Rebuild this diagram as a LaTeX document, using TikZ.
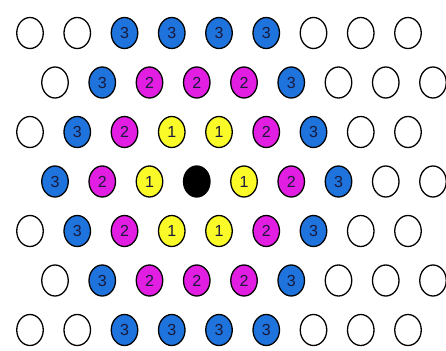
\documentclass[tikz,border=0pt]{standalone}
\usepackage{fontspec}
\setmainfont{Liberation Sans}
\usetikzlibrary{shapes.geometric}
\definecolor{cblue}{RGB}{30,115,220}
\definecolor{cmag}{RGB}{225,30,225}
\definecolor{cyel}{RGB}{250,250,40}
\definecolor{ctxt}{RGB}{25,25,60}
\tikzset{
  cell/.style={ellipse, draw=black, line width=1.3pt, minimum width=26.5pt, minimum height=31pt, inner sep=0pt, text=ctxt, font=\fontsize{16}{16}\selectfont},
  c-w/.style={fill=white, node contents={}},
  c-b/.style={fill=black, node contents={}},
  c-1/.style={fill=cyel, node contents={1}},
  c-2/.style={fill=cmag, node contents={2}},
  c-3/.style={fill=cblue, node contents={3}},
}
\begin{document}
\begin{tikzpicture}[x=1pt,y=-1pt]
\useasboundingbox (0,0) rectangle (446,350);
\foreach \r/\lst in {
  1/{w,w,3,3,3,3,w,w,w},
  2/{w,3,2,2,2,3,w,w,w},
  3/{w,3,2,1,1,2,3,w,w},
  4/{3,2,1,b,1,2,3,w,w},
  5/{w,3,2,1,1,2,3,w,w},
  6/{w,3,2,2,2,3,w,w,w},
  7/{w,w,3,3,3,3,w,w,w}} {
  \pgfmathsetmacro{\xo}{isodd(\r) ? 30 : 55}
  \pgfmathsetmacro{\yy}{33 + 49.5*(\r-1)}
  \foreach \t [count=\i] in \lst {
    \node[cell, name=n\r-\i, at={({\xo + 47.25*(\i-1)}, \yy)}, c-\t];
  }
}
\end{tikzpicture}
\end{document}
